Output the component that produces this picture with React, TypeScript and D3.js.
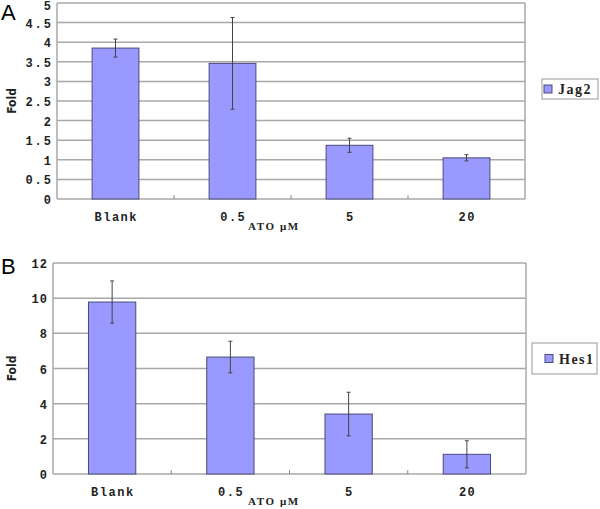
import React from "react";
import * as d3 from "d3";

const categories = ["Blank", "0.5", "5", "20"];
const jag2Values = [3.85, 3.46, 1.37, 1.05];
const jag2Errors = [0.23, 1.17, 0.18, 0.08];
const jag2Ticks = [0, 0.5, 1, 1.5, 2, 2.5, 3, 3.5, 4, 4.5, 5];
const jag2TickLabels = ["0", "0.5", "1", "1.5", "2", "2.5", "3", "3.5", "4", "4.5", "5"];
const hes1Values = [9.78, 6.65, 3.41, 1.12];
const hes1Errors = [1.2, 0.9, 1.24, 0.77];
const hes1Ticks = [0, 2, 4, 6, 8, 10, 12];
const hes1TickLabels = ["0", "2", "4", "6", "8", "10", "12"];

type PanelProps = {
  letter: string;
  letterY: number;
  x0: number; x1: number; y0: number; y1: number;
  values: number[]; errors: number[]; ticks: number[]; tickLabels: string[];
  yMax: number;
  legend: string;
  legendBox: [number, number, number, number];
  tickSpacing: number;
};

const mono = "'Liberation Mono', 'DejaVu Sans Mono', monospace";
const serif = "'Liberation Serif', 'DejaVu Serif', serif";

function Panel(p: PanelProps) {
  const x = d3.scaleBand<string>().domain(categories).range([p.x0, p.x1]).paddingInner(0.6).paddingOuter(0.3);
  const band = d3.scaleBand<string>().domain(categories).range([p.x0, p.x1]);
  const y = d3.scaleLinear().domain([0, p.yMax]).range([p.y1, p.y0]);
  const [lx, ly, lw, lh] = p.legendBox;
  const big = lh > 25;
  return (
    <g>
      <text x={1} y={p.letterY} fontFamily="'Liberation Sans', Arial, sans-serif" fontSize={22}>{p.letter}</text>
      {p.ticks.map((t, i) => (
        <g key={i}>
          {t > 0 && <line x1={p.x0} x2={p.x1} y1={y(t)} y2={y(t)} stroke="#a8a8a8" strokeWidth={1.5} />}
          <text x={p.x0 - 6 + p.tickSpacing} y={Math.max(y(t) + 5, 10)} textAnchor="end" letterSpacing={p.tickSpacing} fontFamily={mono} fontWeight="bold" fontSize={12} fill="#222">{p.tickLabels[i]}</text>
        </g>
      ))}
      <line x1={p.x0} x2={p.x0} y1={p.y0} y2={p.y1} stroke="#a8a8a8" strokeWidth={1.5} />
      <line x1={p.x1} x2={p.x1} y1={p.y0} y2={p.y1} stroke="#a8a8a8" strokeWidth={1.5} />
      <line x1={p.x0} x2={p.x1} y1={p.y1} y2={p.y1} stroke="#a8a8a8" strokeWidth={1.5} />
      {categories.slice(1).map((c) => (
        <line key={c} x1={band(c)!} x2={band(c)!} y1={p.y1} y2={p.y1 - 4} stroke="#888" strokeWidth={1} />
      ))}
      {categories.map((c, i) => {
        const bx = x(c)!;
        const bw = x.bandwidth();
        const cx = bx + bw / 2;
        const v = p.values[i];
        const e = p.errors[i];
        return (
          <g key={c}>
            <rect x={bx} y={y(v)} width={bw} height={p.y1 - y(v)} fill="#9999ff" stroke="#4a4a7a" strokeWidth={1} />
            <line x1={cx} x2={cx} y1={y(v + e)} y2={y(v - e)} stroke="#444" strokeWidth={1} />
            <line x1={cx - 2} x2={cx + 2} y1={y(v + e)} y2={y(v + e)} stroke="#444" strokeWidth={1} />
            <line x1={cx - 2} x2={cx + 2} y1={y(v - e)} y2={y(v - e)} stroke="#444" strokeWidth={1} />
            <text x={band(c)! + band.bandwidth() / 2 + 0.75} y={p.y1 + 22} textAnchor="middle" letterSpacing={1.5} fontFamily={mono} fontWeight="bold" fontSize={12} fill="#222">{c}</text>
          </g>
        );
      })}
      <text x={248} y={p.y1 + 31} letterSpacing={1.6} fontFamily={serif} fontWeight="bold" fontSize={11} fill="#222">ATO μM</text>
      <text transform={`translate(16,${(p.y0 + p.y1) / 2}) rotate(-90)`} textAnchor="middle" fontFamily="'DejaVu Sans Condensed', 'DejaVu Sans', sans-serif" fontStretch="condensed" fontWeight="bold" fontSize={12} fill="#222">Fold</text>
      <rect x={lx} y={ly} width={lw} height={lh} fill="white" stroke="#999" strokeWidth={1} />
      <rect x={lx + (big ? 13 : 2)} y={ly + lh / 2 - 4} width={8} height={8} fill="#9999ff" stroke="#4a4a7a" strokeWidth={1} />
      <text x={lx + (big ? 27 : 16)} y={ly + lh / 2 + 5} letterSpacing={1.5} fontFamily={serif} fontWeight="bold" fontSize={14} fill="#222">{p.legend}</text>
    </g>
  );
}

export default function App() {
  return (
    <svg width={600} height={509} style={{ position: "absolute", left: 0, top: 0, background: "white" }}>
      <Panel letter="A" letterY={20} x0={57} x1={525} y0={3} y1={199} values={jag2Values} errors={jag2Errors} ticks={jag2Ticks} tickLabels={jag2TickLabels} yMax={5} legend="Jag2" legendBox={[542, 79, 56, 20]} tickSpacing={2} />
      <Panel letter="B" letterY={274} x0={53} x1={526} y0={263} y1={474} values={hes1Values} errors={hes1Errors} ticks={hes1Ticks} tickLabels={hes1TickLabels} yMax={12} legend="Hes1" legendBox={[532, 343, 65, 31]} tickSpacing={1} />
    </svg>
  );
}
